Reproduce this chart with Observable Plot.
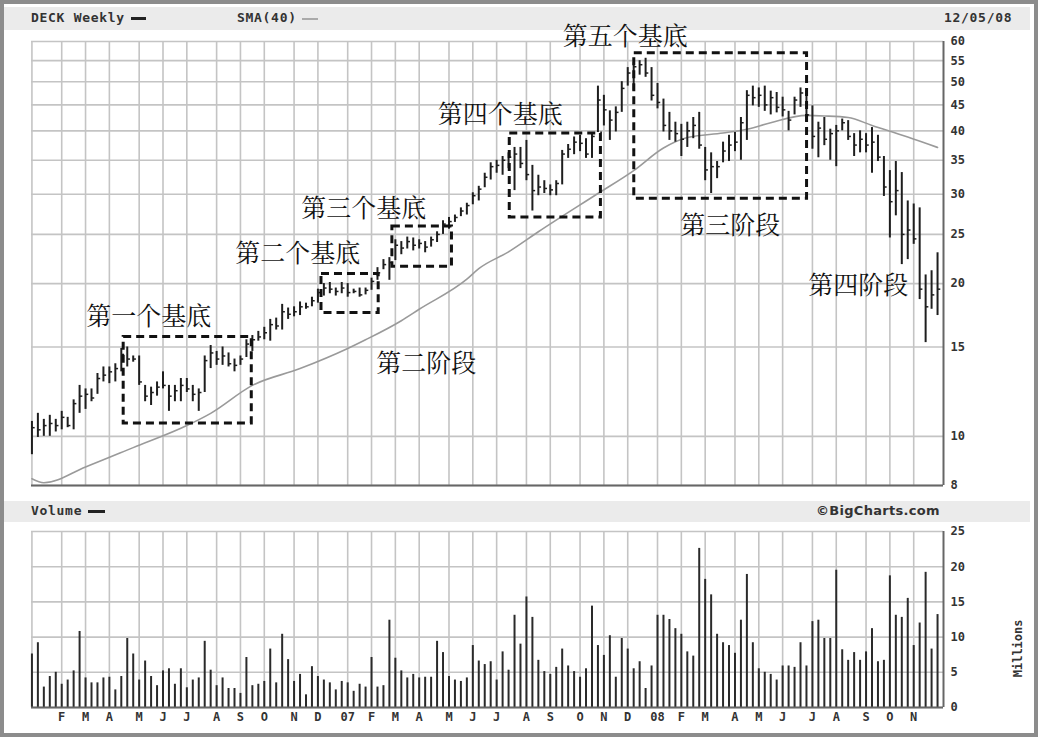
<!DOCTYPE html>
<html>
<head>
<meta charset="utf-8">
<script src="https://cdn.jsdelivr.net/npm/d3@7"></script>
<script src="https://cdn.jsdelivr.net/npm/@observablehq/plot@0.6"></script>
<style>
  body { margin:0; background:#fff; }
  #frame { position:absolute; left:0; top:0; width:1038px; height:737px; box-sizing:border-box; border:4px solid #8c8c8c; background:#fff; }
  .band { position:absolute; left:4px; width:1026px; background:#ebebeb; }
  .lbl { position:absolute; font-family:"DejaVu Sans Mono", monospace; font-weight:bold; font-size:13px; letter-spacing:0.7px; color:#333; white-space:nowrap; }
  .dash { position:absolute; }
  .panel { position:absolute; left:0; }
</style>
</head>
<body>
<div id="frame"></div>
<div class="band" style="top:7px;height:23px;"></div>
<div class="band" style="top:501px;height:21px;"></div>
<div class="lbl" style="left:31px;top:10px;">DECK Weekly</div>
<div class="dash" style="left:131px;top:17px;width:15px;height:3px;background:#222;"></div>
<div class="lbl" style="left:237px;top:10px;">SMA(40)</div>
<div class="dash" style="left:302px;top:18px;width:16px;height:2px;background:#aaa;"></div>
<div class="lbl" style="left:944px;top:10px;">12/05/08</div>
<div class="lbl" style="left:31px;top:503px;">Volume</div>
<div class="dash" style="left:88px;top:510px;width:17px;height:3px;background:#222;"></div>
<div class="lbl" style="left:816px;top:503px;font-family:'DejaVu Sans',sans-serif;font-size:13px;letter-spacing:0.3px;">©BigCharts.com</div>
<div id="price" class="panel" style="top:30px;"></div>
<div id="volume" class="panel" style="top:520px;"></div>
<script>
// ---- data ----
const startWeek = Date.UTC(2005, 11, 26); // first weekly bar
const domainStart = Date.UTC(2005, 11, 25, 12);
const domainEnd = Date.UTC(2008, 11, 1);

const high = [10.7,11.1,10.8,11.0,10.8,11.2,10.9,11.8,12.6,12.4,
 12.4,13.3,13.7,13.7,13.9,14.9,15.0,14.4,14.4,12.6,
 12.5,12.8,13.4,12.6,12.6,13.0,13.0,12.6,12.4,14.4,
 15.1,14.7,15.0,14.6,14.2,14.4,15.5,15.8,16.1,16.4,
 17.0,17.1,18.2,17.9,18.0,18.4,18.3,18.8,19.5,20.0,
 20.1,19.6,20.1,20.0,19.5,19.6,19.6,20.5,21.5,22.3,
 22.5,24.4,24.2,24.7,24.6,24.4,24.2,24.7,25.3,26.6,
 27.0,27.3,28.2,28.8,30.2,31.1,33.0,34.6,35.0,35.6,
 36.2,37.1,37.1,38.3,34.2,32.7,31.9,31.3,31.9,36.6,
 37.6,38.9,39.2,38.6,39.7,49.0,47.0,43.8,44.6,50.0,
 53.3,54.5,55.0,55.6,53.3,49.6,46.2,43.5,41.6,41.2,
 41.6,42.5,43.5,37.1,36.2,34.8,38.0,39.2,39.7,42.5,
 48.0,49.0,48.6,49.0,47.9,47.6,46.6,43.7,46.6,48.6,
 47.9,44.8,41.6,42.5,40.3,41.0,42.2,41.9,39.5,40.0,
 39.5,40.6,39.2,35.6,33.4,34.8,33.1,29.1,28.7,28.2,
 20.8,21.2,23.0];
const low = [9.2,9.95,10.0,10.0,10.2,10.3,10.4,10.3,11.1,11.3,
 11.7,12.1,12.8,12.7,12.8,13.4,13.7,14.0,12.6,11.7,
 11.5,12.0,12.4,11.2,11.7,11.7,12.2,11.7,11.2,12.2,
 13.6,13.8,13.8,13.7,13.4,13.8,14.3,14.7,15.4,15.5,
 15.4,16.2,16.2,17.0,17.2,17.3,17.8,18.0,18.3,18.9,
 19.1,18.9,19.1,18.8,19.1,18.8,19.0,19.4,20.3,21.3,
 20.3,22.2,22.8,23.4,23.2,23.4,23.0,23.6,24.1,25.0,
 25.6,26.4,27.1,27.3,28.6,29.1,30.9,32.0,33.0,32.7,
 33.7,30.5,33.7,31.9,27.8,29.8,30.1,29.8,29.8,31.3,
 35.3,35.9,36.4,35.3,35.3,39.7,40.9,38.3,39.8,43.5,
 49.0,48.0,51.5,51.0,45.8,44.2,39.8,38.3,38.0,35.6,
 37.1,38.6,36.8,31.9,30.1,32.2,34.6,34.8,36.4,35.0,
 38.3,44.8,44.5,43.7,43.0,43.4,42.6,40.0,43.0,44.5,
 41.6,36.8,35.4,37.4,35.0,34.0,40.0,38.3,35.6,36.2,
 36.2,33.0,34.8,29.7,24.6,27.2,21.8,22.3,23.9,18.6,
 15.3,17.8,17.3];
const close = [10.4,10.3,10.5,10.6,10.5,10.9,10.5,11.6,12.0,12.1,
 11.9,13.0,13.2,13.4,13.6,14.5,14.2,14.2,12.8,12.0,
 12.2,12.5,12.6,12.0,12.3,12.6,12.4,12.1,12.2,14.1,
 14.6,14.2,14.4,13.9,13.8,14.2,15.2,15.5,15.7,16.0,
 16.6,16.5,17.6,17.4,17.6,18.0,18.0,18.5,19.2,19.6,
 19.5,19.3,19.6,19.2,19.3,19.0,19.4,20.2,21.0,21.8,
 22.0,23.8,23.5,24.2,23.8,24.0,23.6,24.4,25.0,26.2,
 26.5,27.0,27.8,28.5,29.8,30.7,32.4,34.0,34.2,35.0,
 35.5,36.0,34.5,32.8,30.5,31.0,30.8,30.6,31.5,36.0,
 36.8,38.0,37.8,36.0,39.0,46.0,44.0,42.0,43.5,48.5,
 52.0,53.5,54.0,52.0,47.0,45.5,41.0,40.0,39.5,38.5,
 40.0,41.0,37.5,33.5,34.0,34.0,36.5,37.5,38.0,41.5,
 47.0,46.5,47.0,45.0,46.5,44.5,44.0,42.0,46.0,47.5,
 43.0,39.0,40.5,38.5,39.5,40.0,41.5,39.0,37.5,38.5,
 37.5,38.0,35.5,31.0,29.0,30.5,25.0,25.5,24.5,19.5,
 18.0,19.0,19.5];
const volume = [7.6,9.2,2.9,4.4,5.0,3.3,3.9,5.2,10.8,4.2,
 3.5,3.5,4.2,4.3,2.5,4.4,9.8,7.6,3.9,6.6,
 4.4,3.1,5.2,5.5,3.3,5.5,2.8,3.9,4.2,9.4,
 5.3,3.1,4.2,2.7,2.7,2.0,7.1,3.1,3.3,3.7,
 8.3,3.5,10.4,6.8,3.7,4.7,1.8,5.8,4.4,3.9,
 3.5,2.5,3.7,3.5,2.3,3.3,2.9,7.1,2.9,3.1,
 12.4,7.0,5.2,4.2,4.7,4.2,4.3,4.3,9.4,7.8,
 4.4,3.9,3.7,4.2,8.8,6.6,6.1,6.5,3.9,7.9,
 5.3,13.1,9.0,15.7,12.8,6.7,5.1,4.7,5.7,8.3,
 5.9,5.1,4.3,5.5,14.4,8.8,7.4,10.2,4.3,9.8,
 8.3,5.5,6.5,2.7,5.9,13.1,13.1,12.5,11.2,10.4,
 7.9,7.3,22.6,18.2,16.0,10.4,9.2,8.8,7.7,12.4,
 18.9,9.2,5.5,5.0,4.7,3.9,5.9,5.9,5.7,9.2,
 5.9,12.2,12.4,9.8,9.8,19.5,8.2,6.7,7.8,6.7,
 7.9,11.2,6.5,6.7,18.7,13.1,12.8,15.5,8.8,12.0,
 19.2,8.3,13.2];
// SMA(40) read at selected weeks
const smaWeeks = [1,3,10,18,27,31,38,46,54,57,63,66,74,76,81,86,96,102,107,111,117,121,125,131,134,138,142,148,153];
const smaValues = [8.25,8.1,8.7,9.5,10.5,11.1,12.6,13.6,14.9,15.5,16.9,17.8,20.4,21.4,23.1,25.3,30.1,33.4,37.0,38.8,39.6,40.3,41.5,42.9,42.8,42.5,41.0,38.9,37.1];
// base boxes: week from/to, price from/to
const boxW1 = [16.4, 49.6, 61.5, 81.2, 102.1];
const boxW2 = [37.9, 59.2, 71.5, 96.5, 131.1];
const boxP1 = [10.6, 17.5, 21.6, 27.0, 29.4];
const boxP2 = [15.7, 20.9, 25.9, 39.5, 56.9];
// annotations
const annoText = ["第一个基底","第二个基底","第三个基底","第四个基底","第五个基底","第二阶段","第三阶段","第四阶段"];
const annoWeek = [20.6, 45.6, 56.7, 79.6, 100.6, 67.2, 118.2, 139.7];
const annoPrice = [17.2, 22.9, 28.1, 42.9, 61.1, 13.9, 26.0, 19.75];
const priceTicks = [8,10,15,20,25,30,35,40,45,50,55,60];
const volTicks = [0,5,10,15,20,25];
const monthLetters = ["J","F","M","A","M","J","J","A","S","O","N","D"];

// ---- build ----
const weekDate = w => new Date(startWeek + (w - 1) * 7 * 864e5);
const bars = high.map((h, k) => ({date: weekDate(k + 1), high: h, low: low[k], close: close[k], vol: volume[k]}));
const sma = smaWeeks.map((w, k) => ({date: weekDate(w), v: smaValues[k]}));
const boxes = boxW1.map((w, k) => ({x1: weekDate(w), x2: weekDate(boxW2[k]), y1: boxP1[k], y2: boxP2[k]}));
const annos = annoText.map((t, k) => ({text: t, date: weekDate(annoWeek[k]), p: annoPrice[k]}));
const months = d3.utcMonth.range(new Date(Date.UTC(2006,0,1)), new Date(domainEnd));
const gridDates = months.map(m => d3.utcMonday.floor(m));
const labelMap = new Map(months.map(m => [+d3.utcMonday.floor(m), m.getUTCMonth() === 0 ? String(m.getUTCFullYear()).slice(2) : monthLetters[m.getUTCMonth()]]));
const labelDates = gridDates.slice(1);

const gridColor = "#c4c4c4";
const borderColor = "#666";
const monoFont = "DejaVu Sans Mono, monospace";

const xScale = {type: "utc", domain: [new Date(domainStart), new Date(domainEnd)], axis: null};

const price = Plot.plot({
  width: 1038, height: 470,
  marginLeft: 31, marginRight: 95, marginTop: 11, marginBottom: 15,
  style: {background: "transparent", overflow: "visible"},
  x: xScale,
  y: {type: "log", domain: [8, 60], axis: null},
  marks: [
    Plot.gridX(gridDates, {stroke: gridColor, strokeOpacity: 1, strokeWidth: 1.6}),
    Plot.gridY(priceTicks, {stroke: gridColor, strokeOpacity: 1, strokeWidth: 1.6}),
    Plot.line(sma, {x: "date", y: "v", stroke: "#9a9a9a", strokeWidth: 1.6, curve: "monotone-x"}),
    Plot.ruleX(bars, {x: "date", y1: "low", y2: "high", stroke: "#1e1e1e", strokeWidth: 2}),
    Plot.link(bars, {x1: "date", x2: d => new Date(+d.date + 3.2 * 864e5), y1: "close", y2: "close", stroke: "#1e1e1e", strokeWidth: 1.5}),
    Plot.rect(boxes, {x1: "x1", x2: "x2", y1: "y1", y2: "y2", fill: "none", stroke: "#111", strokeWidth: 3, strokeDasharray: "8,5"}),
    Plot.text(annos, {x: "date", y: "p", text: "text", fontSize: 25, fill: "#111", fontFamily: "Noto Serif CJK SC, Noto Sans CJK SC, sans-serif"}),
    Plot.ruleX([new Date(domainEnd)], {stroke: borderColor, strokeWidth: 2}),
    Plot.ruleY([8], {stroke: borderColor, strokeWidth: 2}),
    Plot.axisY(priceTicks, {anchor: "right", label: null, tickSize: 0, tickPadding: 7, tickFormat: d => String(d), fontSize: 12, fontWeight: "bold", fontFamily: monoFont, fill: "#333"})
  ]
});
document.getElementById("price").append(price);

const vol = Plot.plot({
  width: 1038, height: 215,
  marginLeft: 31, marginRight: 95, marginTop: 11, marginBottom: 28,
  style: {background: "transparent", overflow: "visible"},
  x: xScale,
  y: {domain: [0, 25], axis: null},
  marks: [
    Plot.gridX(gridDates, {stroke: gridColor, strokeOpacity: 1, strokeWidth: 1.6}),
    Plot.gridY(volTicks, {stroke: gridColor, strokeOpacity: 1, strokeWidth: 1.6}),
    Plot.ruleX(bars, {x: "date", y1: 0, y2: "vol", stroke: "#2a2a2a", strokeWidth: 2}),
    Plot.ruleX([new Date(domainEnd)], {stroke: borderColor, strokeWidth: 2}),
    Plot.ruleY([0], {stroke: borderColor, strokeWidth: 2}),
    Plot.axisY(volTicks, {anchor: "right", label: null, tickSize: 0, tickPadding: 7, tickFormat: d => String(d), fontSize: 12, fontWeight: "bold", fontFamily: monoFont, fill: "#333"}),
    Plot.axisX(labelDates, {anchor: "bottom", label: null, tickSize: 0, tickPadding: 5, tickFormat: d => labelMap.get(+d), fontSize: 12, fontWeight: "bold", fontFamily: monoFont, fill: "#333"}),
    Plot.text(["Millions"], {frameAnchor: "right", dx: 75, rotate: -90, fontSize: 12, fontWeight: "bold", fontFamily: monoFont, fill: "#333"})
  ]
});
document.getElementById("volume").append(vol);
</script>
</body>
</html>
